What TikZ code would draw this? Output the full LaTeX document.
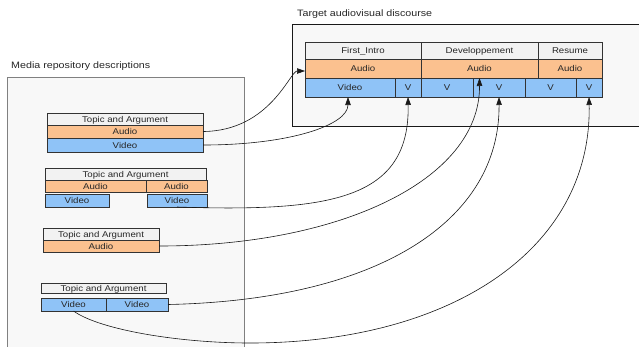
\documentclass[tikz,border=0pt]{standalone}
\usepackage{fontspec}
\setmainfont{Liberation Sans}[FakeStretch=1.15]
\usetikzlibrary{arrows.meta}
\definecolor{audiofill}{HTML}{FBC18F}
\definecolor{videofill}{HTML}{8FC3F7}
\definecolor{headfill}{HTML}{F2F2F2}
\definecolor{panelfill}{HTML}{F8F8F8}
\newcommand{\cellnode}[7]{\node[#2, minimum width={#5-#3}, minimum height={#6-#4}] (#1) at ({(#3+#5)/2},{(#4+#6)/2}) {#7};}
\begin{document}
\begin{tikzpicture}[x=1pt,y=-1pt,
  cell/.style={draw=black!80, line width=0.7pt, inner sep=0pt, outer sep=0pt,
    font=\fontsize{8.4}{9}\selectfont, text=black!85, text height=6pt, text depth=0pt},
  head/.style={cell, fill=headfill},
  aud/.style={cell, fill=audiofill},
  vid/.style={cell, fill=videofill},
  panel/.style={fill=panelfill, inner sep=0pt, outer sep=0pt},
  title/.style={font=\fontsize{9.3}{11}\selectfont, text=black!85, inner sep=0pt, anchor=west},
  link/.style={draw=black!90, line width=0.6pt, -{Triangle[length=8pt,width=5.5pt]}}]
\useasboundingbox (0,0) rectangle (639,346);
\clip (0,0) rectangle (639,346);
% containers
\cellnode{repo}{panel, draw=black!50, line width=0.8pt}{7}{77}{244}{370}{}
\cellnode{tgt}{panel, draw=black!90, line width=0.8pt}{292}{24}{680}{126}{}
\node[title] (repotitle) at (11,66) {Media repository descriptions};
\node[title] (tgttitle) at (297,14) {Target audiovisual discourse};
% target rows
\cellnode{tH1}{head}{305}{42}{421}{59}{First\_Intro}
\cellnode{tH2}{head}{421}{42}{538}{59}{Developpement}
\cellnode{tH3}{head}{538}{42}{602}{59}{Resume}
\cellnode{tA1}{aud}{305}{59}{421}{78}{Audio}
\cellnode{tA2}{aud}{421}{59}{538}{78}{Audio}
\cellnode{tA3}{aud}{538}{59}{602}{78}{Audio}
\cellnode{tV1}{vid}{305}{78}{395}{97}{Video}
\cellnode{tV2}{vid}{395}{78}{421}{97}{V}
\cellnode{tV3}{vid}{421}{78}{473}{97}{V}
\cellnode{tV4}{vid}{473}{78}{525}{97}{V}
\cellnode{tV5}{vid}{525}{78}{576}{97}{V}
\cellnode{tV6}{vid}{576}{78}{602}{97}{V}
% block 1
\cellnode{b1h}{head}{47}{113}{203}{125}{Topic and Argument}
\cellnode{b1a}{aud}{47}{125}{203}{138}{Audio}
\cellnode{b1v}{vid}{47}{138}{203}{152}{Video}
% block 2
\cellnode{b2h}{head}{45}{168}{206}{180}{Topic and Argument}
\cellnode{b2a1}{aud}{45}{180}{146}{192}{Audio}
\cellnode{b2a2}{aud}{146}{180}{207}{192}{Audio}
\cellnode{b2v1}{vid}{45}{194}{109}{207}{Video}
\cellnode{b2v2}{vid}{147}{194}{207}{207}{Video}
% block 3
\cellnode{b3h}{head}{43}{228}{159}{240}{Topic and Argument}
\cellnode{b3a}{aud}{43}{240}{159}{252}{Audio}
% block 4
\cellnode{b4h}{head}{41}{283}{166}{293}{Topic and Argument}
\cellnode{b4v1}{vid}{41}{298}{106}{311}{Video}
\cellnode{b4v2}{vid}{106}{298}{168}{311}{Video}
% connectors
\draw[link] (b1a.east) .. controls (270,131) and (290,71) .. ([yshift=-2.5pt]tA1.west);
\draw[link] (b1v.east) .. controls (290,145) and (348,125) .. ([xshift=-2pt]tV1.south);
\draw[link] (b2v2.south) .. controls (330,212) and (410,200) .. (tV2.south);
\draw[link] (b3a.east) .. controls (340,246) and (480,180) .. (tA2.south);
\draw[link] (b4v2.east) .. controls (380,300) and (500,220) .. (tV4.south);
\draw[link] (b4v1.south) .. controls (100,330) and (180,343) .. (250,343)
  .. controls (450,343) and (592,250) .. (tV6.south);
\end{tikzpicture}
\end{document}
